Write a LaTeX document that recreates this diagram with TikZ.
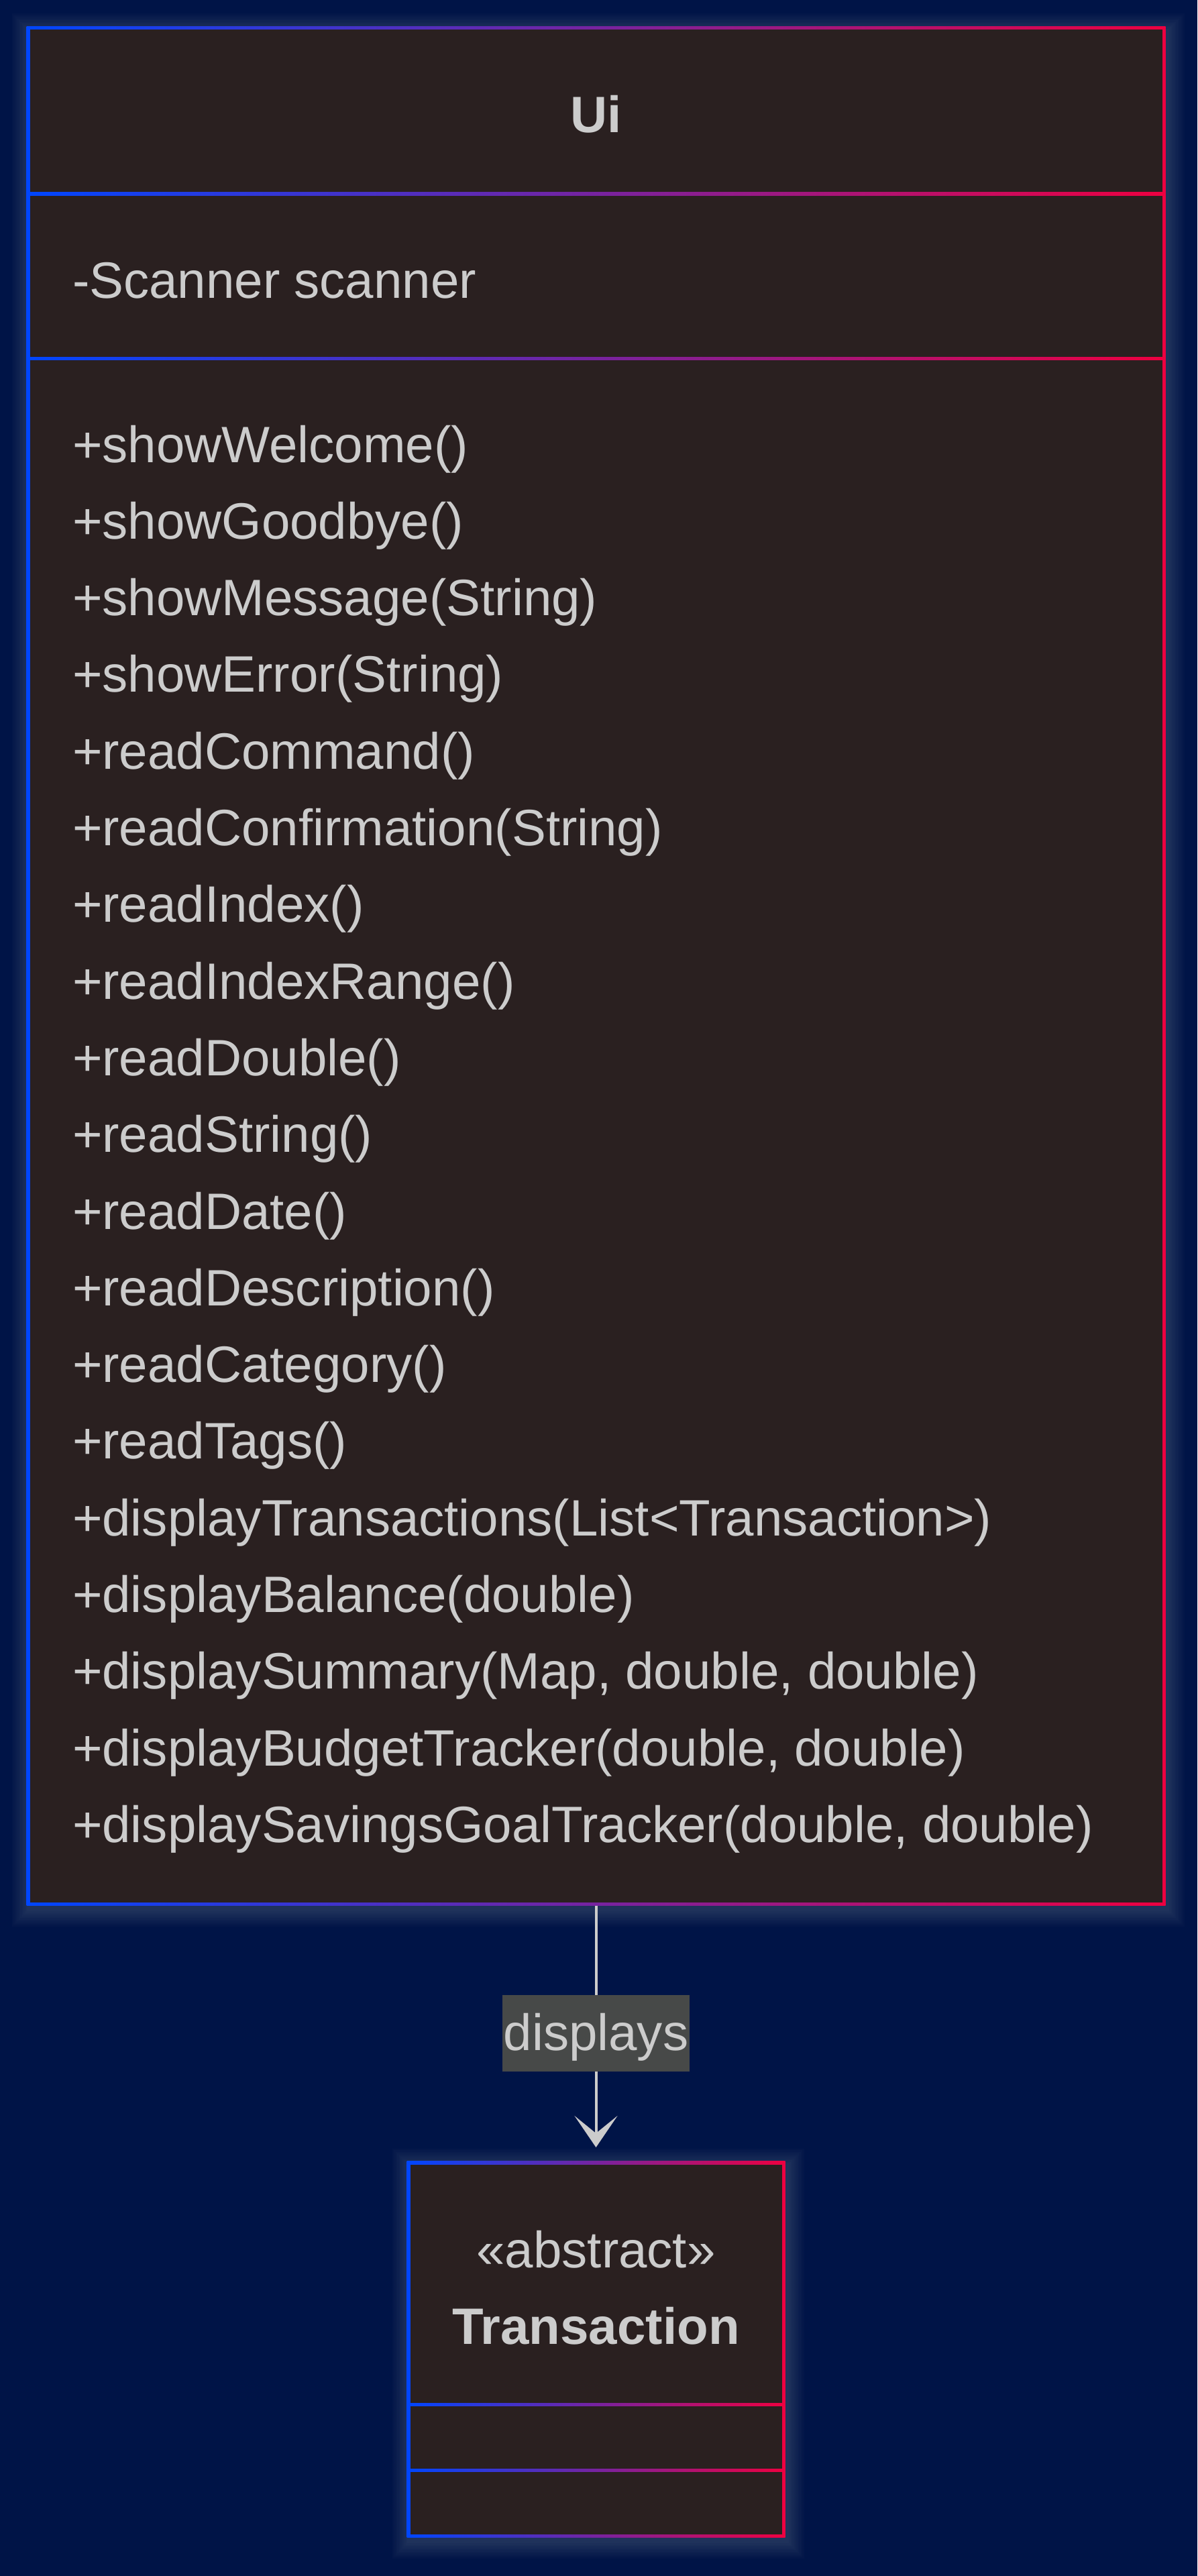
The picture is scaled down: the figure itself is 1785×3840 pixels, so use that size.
\documentclass[tikz,border=0pt]{standalone}
\usepackage{fontspec}
\setmainfont{Liberation Sans}
\usetikzlibrary{arrows.meta}
\definecolor{bgc}{HTML}{001447}
\definecolor{boxc}{HTML}{2A2020}
\definecolor{txtc}{HTML}{CCCCCC}
\definecolor{lblc}{HTML}{474948}
\definecolor{cblue}{HTML}{0046FF}
\definecolor{cred}{HTML}{EE0040}
\tikzset{
  txt/.style={font=\fontsize{76.3}{91}\selectfont, text=txtc, inner sep=0pt, outer sep=0pt},
  ttl/.style={txt, font=\fontsize{76.3}{91}\selectfont\bfseries},
  boxnode/.style={inner sep=0pt, outer sep=0pt, draw=none},
  comp/.style={fill=boxc},
  grad/.style={left color=cblue, right color=cred},
  glowlayer/.style={fill=white, opacity=0.014},
  conn/.style={draw=txtc, line width=4pt, -{Stealth[length=47pt, width=64pt, inset=26pt]}},
  lbl/.style={txt, fill=lblc, text height=82pt, text depth=32pt, inner xsep=2pt},
}
\begin{document}
\begin{tikzpicture}[x=1pt, y=-1pt]
\fill[bgc] (0,0) rectangle (1785,3840);
\useasboundingbox (0,0) rectangle (1785,3840);

% soft glow behind the boxes
\foreach \i in {1,...,10} {
  \fill[glowlayer] ({39.5+3-\i*2.5},{39.5+6-\i*2.5}) rectangle ({1737.5+3+\i*2.5},{2840.5+6+\i*2.5});
  \fill[glowlayer] ({606.5+3-\i*2.5},{3221.5+6-\i*2.5}) rectangle ({1170.5+3+\i*2.5},{3782.5+6+\i*2.5});
}

% Ui class box
\node[boxnode, minimum width=1698pt, minimum height=2801pt] (ui) at (888.5,1440) {};
\shade[grad] (ui.north west) rectangle (ui.south east);
\fill[comp] (44.5,44.5) rectangle (1732.5,286.5);
\fill[comp] (44.5,291.5) rectangle (1732.5,531.5);
\fill[comp] (44.5,536.5) rectangle (1732.5,2835.5);

\node[ttl, anchor=base] (uititle) at (888.5,198) {Ui};
\node[txt, anchor=base west] (uiattr) at (108,444) {-Scanner scanner};
\foreach [count=\i from 0] \m in {
  {+showWelcome()},
  {+showGoodbye()},
  {+showMessage(String)},
  {+showError(String)},
  {+readCommand()},
  {+readConfirmation(String)},
  {+readIndex()},
  {+readIndexRange()},
  {+readDouble()},
  {+readString()},
  {+readDate()},
  {+readDescription()},
  {+readCategory()},
  {+readTags()},
  {+displayTransactions(List<Transaction>)},
  {+displayBalance(double)},
  {+displaySummary(Map, double, double)},
  {+displayBudgetTracker(double, double)},
  {+displaySavingsGoalTracker(double, double)}
} {
  \node[txt, anchor=base west] (m\i) at (108,{689+\i*114.3}) {\m};
}

% Transaction class box
\node[boxnode, minimum width=564pt, minimum height=561pt] (tr) at (888.5,3502) {};
\shade[grad] (tr.north west) rectangle (tr.south east);
\fill[comp] (611.5,3226.5) rectangle (1165.5,3581.5);
\fill[comp] (611.5,3586.5) rectangle (1165.5,3679.5);
\fill[comp] (611.5,3684.5) rectangle (1165.5,3777.5);

\node[txt, anchor=base] (trstereo) at (888.5,3380) {«abstract»};
\node[ttl, anchor=base] (trtitle) at (888.5,3494) {Transaction};

% relation
\draw[conn, shorten >=20.5pt] (ui.south) -- node[lbl] (lab) {displays} (tr.north);
\end{tikzpicture}
\end{document}
